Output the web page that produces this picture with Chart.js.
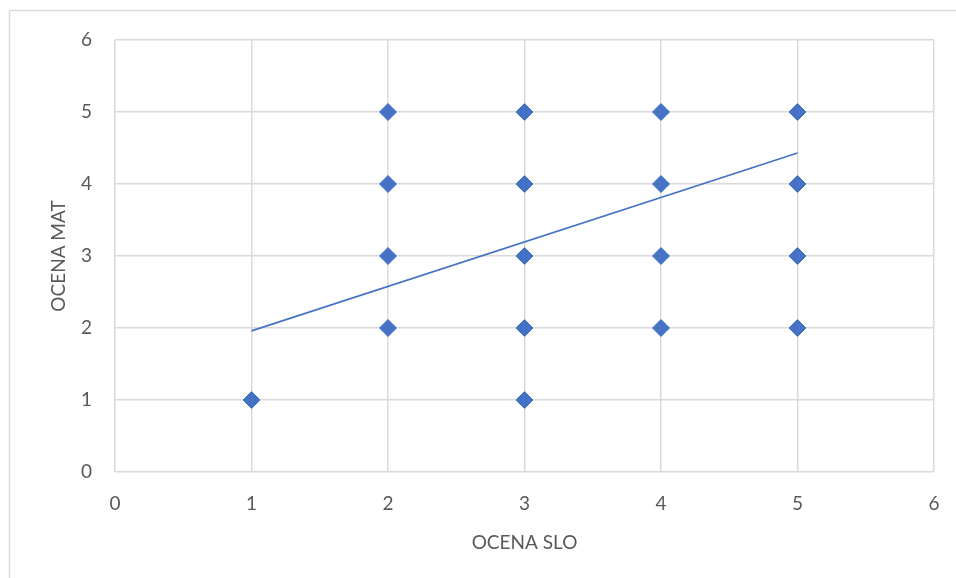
<!DOCTYPE html>
<html>
<head>
<meta charset="utf-8">
<script src="https://cdn.jsdelivr.net/npm/chart.js@4"></script>
<style>
  html, body { margin: 0; padding: 0; background: #ffffff; }
  #wrap { width: 956px; height: 578px; position: relative; }
</style>
</head>
<body>
<div id="wrap"><canvas id="c" width="956" height="578"></canvas></div>
<script>
// Grades: Slovene (x) vs. maths (y)
const ocenaSlo = [1, 2, 2, 2, 2, 3, 3, 3, 3, 3, 4, 4, 4, 4, 5, 5, 5, 5];
const ocenaMat = [1, 2, 3, 4, 5, 1, 2, 3, 4, 5, 2, 3, 4, 5, 2, 3, 4, 5];

// Linear trendline endpoints
const trendX = [1, 5];
const trendY = [1.96, 4.43];

const axisMin = 0;
const axisMax = 6;
const axisStep = 1;

const blue = '#4472C4';
const grey = '#D9D9D9';
const textCol = '#595959';
const fontFamily = 'Lato, "Open Sans", sans-serif';

const points = ocenaSlo.map((x, i) => ({ x: x, y: ocenaMat[i] }));
const trend = trendX.map((x, i) => ({ x: x, y: trendY[i] }));

// Outer frame of the chart
const framePlugin = {
  id: 'frame',
  beforeDraw(chart) {
    const ctx = chart.ctx;
    ctx.save();
    ctx.fillStyle = '#ffffff';
    ctx.fillRect(0, 0, chart.width, chart.height);
    ctx.strokeStyle = grey;
    ctx.lineWidth = 1.5;
    ctx.strokeRect(9.5, 10.5, chart.width + 20, chart.height + 20);
    ctx.restore();
  }
};

new Chart(document.getElementById('c'), {
  type: 'scatter',
  data: {
    datasets: [
      {
        label: 'OCENA MAT',
        data: points,
        pointStyle: 'rectRot',
        pointRadius: 8.5,
        pointHoverRadius: 8.5,
        backgroundColor: blue,
        borderColor: blue,
        borderWidth: 1,
        order: 2
      },
      {
        type: 'line',
        label: 'Trend',
        data: trend,
        borderColor: blue,
        borderWidth: 1.6,
        pointRadius: 0,
        fill: false,
        tension: 0,
        order: 1
      }
    ]
  },
  plugins: [framePlugin],
  options: {
    responsive: false,
    animation: false,
    events: [],
    layout: { padding: { left: 0, top: 40, right: 22, bottom: 0 } },
    plugins: {
      legend: { display: false },
      tooltip: { enabled: false }
    },
    scales: {
      x: {
        type: 'linear',
        min: axisMin,
        max: axisMax,
        afterFit(scale) {
          scale.height = 106;
          scale.paddingLeft = 0;
          scale.paddingRight = 0;
        },
        ticks: {
          stepSize: axisStep,
          color: textCol,
          font: { family: fontFamily, size: 19 },
          padding: 20
        },
        grid: { color: grey, lineWidth: 1.5, drawTicks: false },
        border: { display: false },
        title: {
          display: true,
          text: 'OCENA SLO',
          color: textCol,
          font: { family: fontFamily, size: 19 },
          padding: { top: 0, bottom: 24 }
        }
      },
      y: {
        type: 'linear',
        min: axisMin,
        max: axisMax,
        afterFit(scale) {
          scale.width = 115;
          scale.paddingTop = 0;
          scale.paddingBottom = 0;
        },
        ticks: {
          stepSize: axisStep,
          color: textCol,
          font: { family: fontFamily, size: 19 },
          padding: 23
        },
        grid: { color: grey, lineWidth: 1.5, drawTicks: false },
        border: { display: false },
        title: {
          display: true,
          text: 'OCENA MAT',
          color: textCol,
          font: { family: fontFamily, size: 19 },
          padding: { top: 47, bottom: 0 }
        }
      }
    }
  }
});
</script>
</body>
</html>
